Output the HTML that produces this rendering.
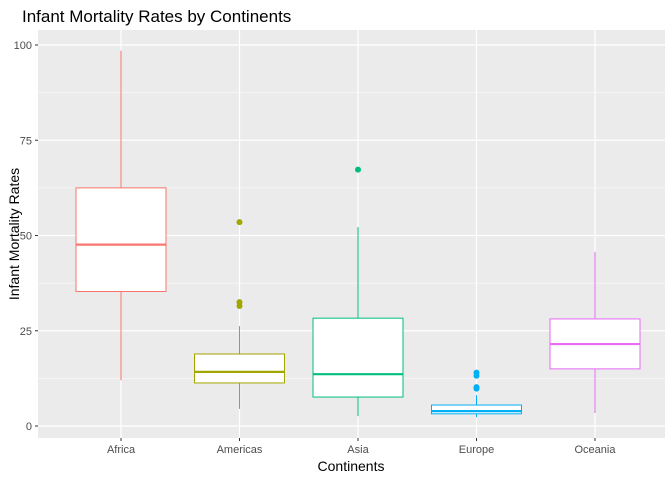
<!DOCTYPE html>
<html><head><meta charset="utf-8"><style>
body{margin:0;background:#fff;font-family:"Liberation Sans",Arial,sans-serif}
</style></head><body>
<svg id="chart" width="672" height="480" xmlns="http://www.w3.org/2000/svg">
<rect width="672" height="480" fill="#fff"/>
<text x="22" y="22" font-size="17" fill="#000">Infant Mortality Rates by Continents</text>
<rect x="38" y="30" width="627" height="408" fill="#EBEBEB"/>
<g id="grid"></g><g id="marks"></g><g id="axes"></g>
<text x="351" y="471" font-size="14" text-anchor="middle">Continents</text>
<text transform="translate(19,234) rotate(-90)" font-size="14" text-anchor="middle">Infant Mortality Rates</text>
</svg>
<script>
const categories=["Africa","Americas","Asia","Europe","Oceania"];
const colors=["#F8766D","#A3A500","#00BF7D","#00B0F6","#E76BF3"];
const lowerWhisker=[12,4.5,2.6,2.3,3.4];
const q1=[35.3,11.3,7.6,3.2,15];
const median=[47.6,14.2,13.6,3.9,21.5];
const q3=[62.5,18.9,28.3,5.5,28.1];
const upperWhisker=[98.5,26.2,52.2,8.1,45.7];
const outliers=[[],[53.5,32.5,31.5],[67.3],[14,13.2,10.2,9.8],[]];
const yTicks=[0,25,50,75,100];
const NS="http://www.w3.org/2000/svg";
const y=v=>426-v*3.81;
const x=i=>121+i*118.5;
const bw=90;
function mk(p,t,a){const e=document.createElementNS(NS,t);for(const k in a)e.setAttribute(k,a[k]);p.appendChild(e);return e;}
const grid=document.getElementById('grid'),marks=document.getElementById('marks'),axes=document.getElementById('axes');
for(let i=0;i<yTicks.length-1;i++){const v=(yTicks[i]+yTicks[i+1])/2;
const g=mk(grid,'line',{x1:38,x2:665,y1:y(v),y2:y(v),stroke:'#fff','stroke-width':0.6});

}
yTicks.forEach(t=>{const g=mk(grid,'line',{x1:38,x2:665,y1:y(t),y2:y(t),stroke:'#fff','stroke-width':1.2});


mk(axes,'line',{x1:35,x2:38,y1:y(t),y2:y(t),stroke:'#333'});
const l=mk(axes,'text',{x:32,y:y(t)+4,'font-size':11,'text-anchor':'end',fill:'#4D4D4D'});l.textContent=t;

});
categories.forEach((c,i)=>{const cx=x(i);
const g=mk(grid,'line',{x1:cx,x2:cx,y1:30,y2:438,stroke:'#fff','stroke-width':1.2});


mk(axes,'line',{x1:cx,x2:cx,y1:438,y2:441,stroke:'#333'});
const l=mk(axes,'text',{x:cx,y:453,'font-size':11,'text-anchor':'middle',fill:'#4D4D4D'});l.textContent=c;


const col=colors[i];
const grp=mk(marks,'g',{});


mk(grp,'line',{x1:cx,x2:cx,y1:y(upperWhisker[i]),y2:y(q3[i]),stroke:col,'stroke-width':1});
mk(grp,'line',{x1:cx,x2:cx,y1:y(q1[i]),y2:y(lowerWhisker[i]),stroke:col,'stroke-width':1});
mk(grp,'rect',{x:cx-bw/2,y:y(q3[i]),width:bw,height:y(q1[i])-y(q3[i]),fill:'#fff',stroke:col,'stroke-width':1});
mk(grp,'line',{x1:cx-bw/2,x2:cx+bw/2,y1:y(median[i]),y2:y(median[i]),stroke:col,'stroke-width':2.2});
outliers[i].forEach(o=>{const d=mk(grp,'circle',{cx:cx,cy:y(o),r:3,fill:col});

});
});
</script>
</body></html>
